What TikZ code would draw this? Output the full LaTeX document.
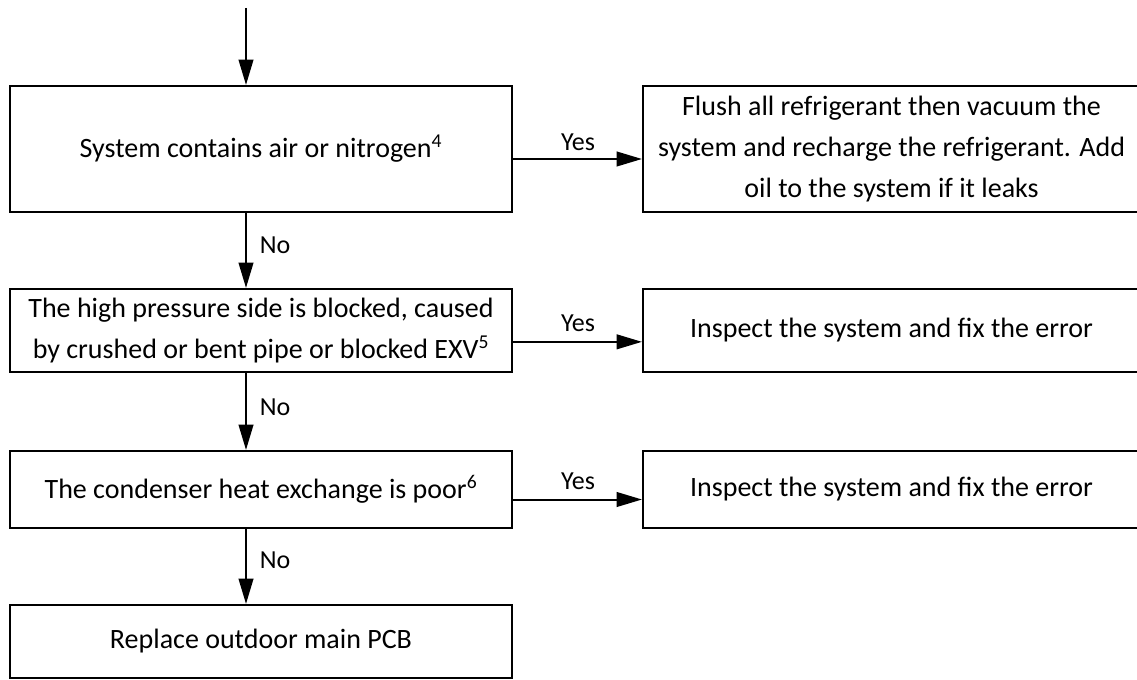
\documentclass[tikz,border=0pt]{standalone}
\usepackage{fontspec}
\setmainfont{Carlito}
\usetikzlibrary{arrows.meta}
\begin{document}
\begin{tikzpicture}[x=0.75pt,y=-0.75pt,
  box/.style={draw, line width=1.6pt, inner sep=0pt, align=center,
    font=\fontsize{21}{30.5}\selectfont},
  lbl/.style={font=\fontsize{19.5}{23}\selectfont, inner sep=0pt},
  arr/.style={line width=1.5pt, -{Triangle[length=19pt,width=11pt]}}]
\useasboundingbox (0,0) rectangle (1137,680);
% left column
\node[box, minimum width=376.5pt, minimum height=94.5pt] (b1) at (261,149)
  {System contains air or nitrogen\textsuperscript{4}};
\node[box, minimum width=376.5pt, minimum height=62.25pt] (b2) at (261,330.5)
  {The high pressure side is blocked, caused\\by crushed or bent pipe or blocked EXV\textsuperscript{5}};
\node[box, minimum width=376.5pt, minimum height=57.75pt] (b3) at (261,489.5)
  {The condenser heat exchange is poor\textsuperscript{6}};
\node[box, minimum width=376.5pt, minimum height=54.75pt] (b4) at (261,641.5)
  {Replace outdoor main PCB};
% right column
\node[box, minimum width=372.75pt, minimum height=94.5pt] (r1) at (891.5,149)
  {Flush all refrigerant then vacuum the\\system and recharge the refrigerant. Add\\oil to the system if it leaks};
\node[box, minimum width=372.75pt, minimum height=62.25pt] (r2) at (891.5,330.5)
  {Inspect the system and fix the error};
\node[box, minimum width=372.75pt, minimum height=57.75pt] (r3) at (891.5,489.5)
  {Inspect the system and fix the error};
% entry
\coordinate (start) at (246,8);
\draw[arr] (start) -- (start |- b1.north);
% No arrows
\draw[arr] (b1.south -| start) -- (b2.north -| start);
\draw[arr] (b2.south -| start) -- (b3.north -| start);
\draw[arr] (b3.south -| start) -- (b4.north -| start);
\node[lbl] (n1) at (275,245) {No};
\node[lbl] (n2) at (275,407) {No};
\node[lbl] (n3) at (275,560) {No};
% Yes arrows
\draw[arr] ([yshift=-7.5pt]b1.east) -- ([yshift=-7.5pt]b1.east -| r1.west);
\draw[arr] ([yshift=-8.5pt]b2.east) -- ([yshift=-8.5pt]b2.east -| r2.west);
\draw[arr] ([yshift=-7.5pt]b3.east) -- ([yshift=-7.5pt]b3.east -| r3.west);
\node[lbl] (y1) at (578,142) {Yes};
\node[lbl] (y2) at (578,323) {Yes};
\node[lbl] (y3) at (578,481) {Yes};
\end{tikzpicture}
\end{document}
